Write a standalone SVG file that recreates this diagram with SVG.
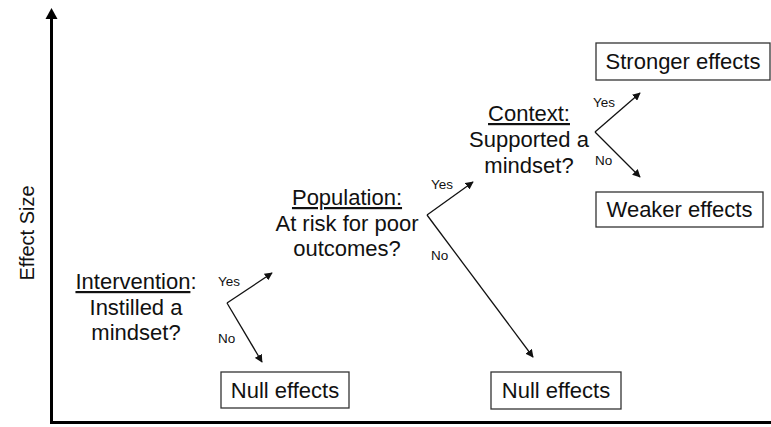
<svg xmlns="http://www.w3.org/2000/svg" width="771" height="427" viewBox="0 0 771 427">
<style>
text{font-family:"Liberation Sans",Arial,sans-serif;fill:#111}
.q{font-size:22px;text-anchor:middle}
.u{text-decoration:underline}
.s{font-size:13.5px}
.box rect{fill:#fff;stroke:#333;stroke-width:1.3}
.box text{font-size:22px;text-anchor:middle}
.c line{stroke:#111;stroke-width:1.3;marker-end:url(#ah)}
</style>
<defs>
<marker id="ah" viewBox="0 0 10 10" refX="9" refY="5" markerWidth="8" markerHeight="8" markerUnits="userSpaceOnUse" orient="auto">
<path d="M0,0 L10,5 L0,10 z" fill="#111"/>
</marker>
</defs>
<rect width="771" height="427" fill="#fff"/>
<g id="axes">
<path d="M51.5,18 V422.5 H771" fill="none" stroke="#000" stroke-width="3"/>
<path d="M51.5,8 L45.5,19 L57.5,19 z" fill="#000"/>
<text transform="translate(34,233) rotate(-90)" font-size="20" text-anchor="middle">Effect Size</text>
</g>
<g id="intervention">
<text class="q" x="136" y="289"><tspan class="u">Intervention</tspan>:</text>
<text class="q" x="136" y="315">Instilled a</text>
<text class="q" x="136" y="340">mindset?</text>
</g>
<g id="population">
<text class="q" x="347" y="205"><tspan class="u">Population:</tspan></text>
<text class="q" x="347" y="231">At risk for poor</text>
<text class="q" x="347" y="256">outcomes?</text>
</g>
<g id="context">
<text class="q" x="529" y="121"><tspan class="u">Context:</tspan></text>
<text class="q" x="529" y="147">Supported a</text>
<text class="q" x="529" y="173">mindset?</text>
</g>
<g id="null1" class="box">
<rect x="221" y="372" width="128" height="36"/>
<text x="285" y="398">Null effects</text>
</g>
<g id="null2" class="box">
<rect x="491" y="372" width="130" height="37"/>
<text x="556" y="398">Null effects</text>
</g>
<g id="stronger" class="box">
<rect x="596" y="43" width="174" height="37"/>
<text x="683" y="69">Stronger effects</text>
</g>
<g id="weaker" class="box">
<rect x="596" y="192" width="167" height="35"/>
<text x="679.5" y="217">Weaker effects</text>
</g>
<g id="connectors" class="c">
<line x1="227" y1="303" x2="272" y2="273"/>
<line x1="227" y1="303" x2="262" y2="362"/>
<line x1="427" y1="215" x2="473" y2="182"/>
<line x1="427" y1="215" x2="533" y2="357"/>
<line x1="595" y1="132" x2="640" y2="93"/>
<line x1="595" y1="132" x2="640" y2="177"/>
</g>
<g id="labels">
<text class="s" x="218" y="286">Yes</text>
<text class="s" x="218" y="343">No</text>
<text class="s" x="431" y="189">Yes</text>
<text class="s" x="431" y="260">No</text>
<text class="s" x="593" y="107">Yes</text>
<text class="s" x="595" y="165">No</text>
</g>
</svg>
